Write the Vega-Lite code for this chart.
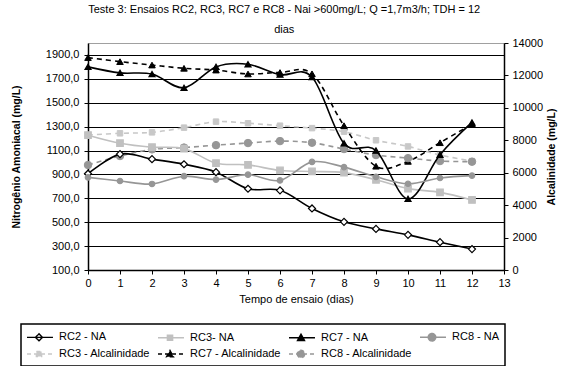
{
  "$schema": "https://vega.github.io/schema/vega-lite/v6.json",
  "width": 416,
  "height": 227,
  "autosize": "none",
  "padding": {"left": 88, "top": 43, "right": 78, "bottom": 96},
  "background": "white",
  "title": {
    "text": ["Teste 3: Ensaios RC2, RC3, RC7 e RC8 - Nai >600mg/L; Q =1,7m3/h; TDH = 12", "dias"],
    "anchor": "middle",
    "frame": "bounds",
    "font": "Liberation Sans",
    "fontSize": 11,
    "fontWeight": "normal",
    "color": "black",
    "lineHeight": 20,
    "offset": 2
  },
  "config": {
    "view": {"stroke": "#a0a0a0", "strokeWidth": 1},
    "axis": {
      "domainColor": "black",
      "tickColor": "black",
      "labelColor": "black",
      "titleColor": "black",
      "labelFont": "Liberation Sans",
      "titleFont": "Liberation Sans",
      "labelFontSize": 11,
      "tickSize": 4,
      "grid": false,
      "labelFlush": false,
      "labelOverlap": false,
      "domainWidth": 1.5
    }
  },
  "data": {
    "values": [
      {"d": 0, "s": "RC2 - NA", "k": "NA", "v": 906},
      {"d": 1, "s": "RC2 - NA", "k": "NA", "v": 1070},
      {"d": 2, "s": "RC2 - NA", "k": "NA", "v": 1028},
      {"d": 3, "s": "RC2 - NA", "k": "NA", "v": 985},
      {"d": 4, "s": "RC2 - NA", "k": "NA", "v": 919},
      {"d": 5, "s": "RC2 - NA", "k": "NA", "v": 780},
      {"d": 6, "s": "RC2 - NA", "k": "NA", "v": 767},
      {"d": 7, "s": "RC2 - NA", "k": "NA", "v": 615},
      {"d": 8, "s": "RC2 - NA", "k": "NA", "v": 503},
      {"d": 9, "s": "RC2 - NA", "k": "NA", "v": 444},
      {"d": 10, "s": "RC2 - NA", "k": "NA", "v": 394},
      {"d": 11, "s": "RC2 - NA", "k": "NA", "v": 333},
      {"d": 12, "s": "RC2 - NA", "k": "NA", "v": 275},
      {"d": 0, "s": "RC3- NA", "k": "NA", "v": 1228},
      {"d": 1, "s": "RC3- NA", "k": "NA", "v": 1161},
      {"d": 2, "s": "RC3- NA", "k": "NA", "v": 1128},
      {"d": 3, "s": "RC3- NA", "k": "NA", "v": 1116},
      {"d": 4, "s": "RC3- NA", "k": "NA", "v": 994},
      {"d": 5, "s": "RC3- NA", "k": "NA", "v": 980},
      {"d": 6, "s": "RC3- NA", "k": "NA", "v": 933},
      {"d": 7, "s": "RC3- NA", "k": "NA", "v": 925},
      {"d": 8, "s": "RC3- NA", "k": "NA", "v": 915},
      {"d": 9, "s": "RC3- NA", "k": "NA", "v": 855},
      {"d": 10, "s": "RC3- NA", "k": "NA", "v": 781},
      {"d": 11, "s": "RC3- NA", "k": "NA", "v": 750},
      {"d": 12, "s": "RC3- NA", "k": "NA", "v": 686},
      {"d": 0, "s": "RC7 - NA", "k": "NA", "v": 1800},
      {"d": 1, "s": "RC7 - NA", "k": "NA", "v": 1750},
      {"d": 2, "s": "RC7 - NA", "k": "NA", "v": 1740},
      {"d": 3, "s": "RC7 - NA", "k": "NA", "v": 1625},
      {"d": 4, "s": "RC7 - NA", "k": "NA", "v": 1800},
      {"d": 5, "s": "RC7 - NA", "k": "NA", "v": 1822},
      {"d": 6, "s": "RC7 - NA", "k": "NA", "v": 1735},
      {"d": 7, "s": "RC7 - NA", "k": "NA", "v": 1715},
      {"d": 8, "s": "RC7 - NA", "k": "NA", "v": 1160},
      {"d": 9, "s": "RC7 - NA", "k": "NA", "v": 1100},
      {"d": 10, "s": "RC7 - NA", "k": "NA", "v": 695},
      {"d": 11, "s": "RC7 - NA", "k": "NA", "v": 1065},
      {"d": 12, "s": "RC7 - NA", "k": "NA", "v": 1335},
      {"d": 0, "s": "RC8 - NA", "k": "NA", "v": 875},
      {"d": 1, "s": "RC8 - NA", "k": "NA", "v": 845},
      {"d": 2, "s": "RC8 - NA", "k": "NA", "v": 820},
      {"d": 3, "s": "RC8 - NA", "k": "NA", "v": 885},
      {"d": 4, "s": "RC8 - NA", "k": "NA", "v": 857},
      {"d": 5, "s": "RC8 - NA", "k": "NA", "v": 898},
      {"d": 6, "s": "RC8 - NA", "k": "NA", "v": 850},
      {"d": 7, "s": "RC8 - NA", "k": "NA", "v": 1005},
      {"d": 8, "s": "RC8 - NA", "k": "NA", "v": 961},
      {"d": 9, "s": "RC8 - NA", "k": "NA", "v": 880},
      {"d": 10, "s": "RC8 - NA", "k": "NA", "v": 822},
      {"d": 11, "s": "RC8 - NA", "k": "NA", "v": 870},
      {"d": 12, "s": "RC8 - NA", "k": "NA", "v": 890},
      {"d": 0, "s": "RC3 - Alcalinidade", "k": "Alc", "v": 8325},
      {"d": 1, "s": "RC3 - Alcalinidade", "k": "Alc", "v": 8430},
      {"d": 2, "s": "RC3 - Alcalinidade", "k": "Alc", "v": 8490},
      {"d": 3, "s": "RC3 - Alcalinidade", "k": "Alc", "v": 8780},
      {"d": 4, "s": "RC3 - Alcalinidade", "k": "Alc", "v": 9150},
      {"d": 5, "s": "RC3 - Alcalinidade", "k": "Alc", "v": 9050},
      {"d": 6, "s": "RC3 - Alcalinidade", "k": "Alc", "v": 8900},
      {"d": 7, "s": "RC3 - Alcalinidade", "k": "Alc", "v": 8750},
      {"d": 8, "s": "RC3 - Alcalinidade", "k": "Alc", "v": 8530},
      {"d": 9, "s": "RC3 - Alcalinidade", "k": "Alc", "v": 8000},
      {"d": 10, "s": "RC3 - Alcalinidade", "k": "Alc", "v": 7620},
      {"d": 11, "s": "RC3 - Alcalinidade", "k": "Alc", "v": 7090},
      {"d": 12, "s": "RC3 - Alcalinidade", "k": "Alc", "v": 6720},
      {"d": 0, "s": "RC7 - Alcalinidade", "k": "Alc", "v": 13100},
      {"d": 1, "s": "RC7 - Alcalinidade", "k": "Alc", "v": 12850},
      {"d": 2, "s": "RC7 - Alcalinidade", "k": "Alc", "v": 12640},
      {"d": 3, "s": "RC7 - Alcalinidade", "k": "Alc", "v": 12440},
      {"d": 4, "s": "RC7 - Alcalinidade", "k": "Alc", "v": 12330},
      {"d": 5, "s": "RC7 - Alcalinidade", "k": "Alc", "v": 12090},
      {"d": 6, "s": "RC7 - Alcalinidade", "k": "Alc", "v": 12180},
      {"d": 7, "s": "RC7 - Alcalinidade", "k": "Alc", "v": 12100},
      {"d": 8, "s": "RC7 - Alcalinidade", "k": "Alc", "v": 8900},
      {"d": 9, "s": "RC7 - Alcalinidade", "k": "Alc", "v": 6400},
      {"d": 10, "s": "RC7 - Alcalinidade", "k": "Alc", "v": 6700},
      {"d": 11, "s": "RC7 - Alcalinidade", "k": "Alc", "v": 7850},
      {"d": 12, "s": "RC7 - Alcalinidade", "k": "Alc", "v": 9000},
      {"d": 0, "s": "RC8 - Alcalinidade", "k": "Alc", "v": 6475},
      {"d": 1, "s": "RC8 - Alcalinidade", "k": "Alc", "v": 7030},
      {"d": 2, "s": "RC8 - Alcalinidade", "k": "Alc", "v": 7440},
      {"d": 3, "s": "RC8 - Alcalinidade", "k": "Alc", "v": 7550},
      {"d": 4, "s": "RC8 - Alcalinidade", "k": "Alc", "v": 7700},
      {"d": 5, "s": "RC8 - Alcalinidade", "k": "Alc", "v": 7830},
      {"d": 6, "s": "RC8 - Alcalinidade", "k": "Alc", "v": 7950},
      {"d": 7, "s": "RC8 - Alcalinidade", "k": "Alc", "v": 7850},
      {"d": 8, "s": "RC8 - Alcalinidade", "k": "Alc", "v": 7460},
      {"d": 9, "s": "RC8 - Alcalinidade", "k": "Alc", "v": 7090},
      {"d": 10, "s": "RC8 - Alcalinidade", "k": "Alc", "v": 6900},
      {"d": 11, "s": "RC8 - Alcalinidade", "k": "Alc", "v": 6720},
      {"d": 12, "s": "RC8 - Alcalinidade", "k": "Alc", "v": 6680}
    ]
  },
  "layer": [
    {
      "transform": [{"filter": "datum.k === 'Alc'"}],
      "encoding": {
        "x": {"field": "d", "type": "quantitative", "scale": {"domain": [0, 13], "nice": false},
          "axis": {"values": [0,1,2,3,4,5,6,7,8,9,10,11,12,13], "title": "Tempo de ensaio (dias)", "titleFontWeight": "normal", "titleFontSize": 11, "labelPadding": 3, "titlePadding": 5}},
        "y": {"field": "v", "type": "quantitative", "scale": {"domain": [0, 14000], "nice": false},
          "axis": {"orient": "right", "values": [0,2000,4000,6000,8000,10000,12000,14000], "format": "d", "title": "Alcalinidade (mg/L)", "titleFontWeight": "bold", "titleFontSize": 10.5, "titleAngle": 270, "titlePadding": 14, "labelPadding": 4}}
      },
      "layer": [
        {
          "mark": {"type": "line", "interpolate": "cardinal", "strokeWidth": 1.6},
          "encoding": {
            "color": {"field": "s", "type": "nominal",
              "scale": {"domain": ["RC2 - NA","RC3- NA","RC7 - NA","RC8 - NA","RC3 - Alcalinidade","RC7 - Alcalinidade","RC8 - Alcalinidade"],
                        "range": ["black","#c0c0c0","black","#969696","#c8c8c8","black","#969696"]},
              "legend": {
                "orient": "none", "legendX": -67, "legendY": 281, "columns": 4, "direction": "horizontal",
                "gridAlign": "all",
                "title": null, "symbolSize": 196, "labelOffset": 17, "labelFont": "Liberation Sans", "labelFontSize": 11,
                "labelColor": "black", "columnPadding": 4, "rowPadding": 2, "padding": 5, "strokeColor": "black",
                "labelLimit": 200,
                "encode": {
                  "legend": {"update": {"strokeWidth": {"value": 1.5}}},
                  "symbols": {"update": {
                    "shape": {"signal": "['M-1,0H2.71M0.714,-0.5L1.214,0L0.714,0.5L0.214,0Z','M-1,0H2.71M0.34,-0.37H1.09V0.37H0.34Z','M-1,0H2.71M0.714,-0.5L1.214,0.4L0.214,0.4Z','M-1,0H2.71M0.174,0A0.54,0.54 0 1,0 1.254,0A0.54,0.54 0 1,0 0.174,0Z','M-1,0H2.71M0.34,-0.37H1.09V0.37H0.34Z','M-1,0H2.71M0.714,-0.5L1.214,0.4L0.214,0.4Z','M-1,0H2.71M0.174,0A0.54,0.54 0 1,0 1.254,0A0.54,0.54 0 1,0 0.174,0Z'][indexof(['RC2 - NA','RC3- NA','RC7 - NA','RC8 - NA','RC3 - Alcalinidade','RC7 - Alcalinidade','RC8 - Alcalinidade'], datum.value)]"},
                    "fill": {"signal": "['white','#c0c0c0','black','#969696','#c8c8c8','black','#969696'][indexof(['RC2 - NA','RC3- NA','RC7 - NA','RC8 - NA','RC3 - Alcalinidade','RC7 - Alcalinidade','RC8 - Alcalinidade'], datum.value)]"},
                    "stroke": {"signal": "['black','#c0c0c0','black','#969696','#c8c8c8','black','#969696'][indexof(['RC2 - NA','RC3- NA','RC7 - NA','RC8 - NA','RC3 - Alcalinidade','RC7 - Alcalinidade','RC8 - Alcalinidade'], datum.value)]"},
                    "strokeDash": {"signal": "indexof(['RC2 - NA','RC3- NA','RC7 - NA','RC8 - NA','RC3 - Alcalinidade','RC7 - Alcalinidade','RC8 - Alcalinidade'], datum.value) >= 4 ? [4,3] : [1,0]"},
                    "strokeWidth": {"value": 1.4},
                    "opacity": {"value": 1},
                    "fillOpacity": {"value": 1},
                    "strokeOpacity": {"value": 1}
                  }}
                }
              }},
            "strokeDash": {"field": "s", "type": "nominal",
              "scale": {"domain": ["RC3 - Alcalinidade","RC7 - Alcalinidade","RC8 - Alcalinidade"], "range": [[5,4],[5,4],[5,4]]},
              "legend": null}
          }
        },
        {
          "mark": {"type": "point", "filled": true, "opacity": 1, "strokeWidth": 1},
          "encoding": {
            "shape": {"field": "s", "type": "nominal", "scale": {"domain": ["RC3 - Alcalinidade","RC7 - Alcalinidade","RC8 - Alcalinidade"], "range": ["square","triangle-up","circle"]}, "legend": null},
            "size": {"field": "s", "type": "nominal", "scale": {"domain": ["RC3 - Alcalinidade","RC7 - Alcalinidade","RC8 - Alcalinidade"], "range": [30, 56, 100]}, "legend": null},
            "fill": {"field": "s", "type": "nominal", "scale": {"domain": ["RC3 - Alcalinidade","RC7 - Alcalinidade","RC8 - Alcalinidade"], "range": ["#c8c8c8","black","#969696"]}, "legend": null},
            "stroke": {"field": "s", "type": "nominal", "scale": {"domain": ["RC3 - Alcalinidade","RC7 - Alcalinidade","RC8 - Alcalinidade"], "range": ["#c8c8c8","black","#969696"]}, "legend": null}
          }
        }
      ]
    },
    {
      "transform": [{"filter": "datum.k === 'NA'"}],
      "encoding": {
        "x": {"field": "d", "type": "quantitative", "scale": {"domain": [0, 13], "nice": false},
          "axis": {"values": [0,1,2,3,4,5,6,7,8,9,10,11,12,13], "title": "Tempo de ensaio (dias)", "titleFontWeight": "normal", "titleFontSize": 11, "labelPadding": 3, "titlePadding": 5}},
        "y": {"field": "v", "type": "quantitative", "scale": {"domain": [100, 2000], "nice": false, "zero": false},
          "axis": {"orient": "left", "values": [100,300,500,700,900,1100,1300,1500,1700,1900], "grid": true, "gridColor": "black", "gridWidth": 1,
            "labelExpr": "replace(format(datum.value, '.1f'), '.', ',')",
            "title": "Nitrogênio Amoniacal (mg/L)", "titleFontWeight": "bold", "titleFontSize": 10.5, "titlePadding": 24, "labelPadding": 5}}
      },
      "layer": [
        {
          "mark": {"type": "line", "interpolate": "cardinal", "strokeWidth": 1.6},
          "encoding": {
            "color": {"field": "s", "type": "nominal"}
          }
        },
        {
          "mark": {"type": "point", "filled": true, "opacity": 1, "strokeWidth": 1.2},
          "encoding": {
            "shape": {"field": "s", "type": "nominal", "scale": {"domain": ["RC2 - NA","RC3- NA","RC7 - NA","RC8 - NA"], "range": ["diamond","square","triangle-up","circle"]}, "legend": null},
            "size": {"field": "s", "type": "nominal", "scale": {"domain": ["RC2 - NA","RC3- NA","RC7 - NA","RC8 - NA"], "range": [49, 30, 56, 100]}, "legend": null},
            "fill": {"field": "s", "type": "nominal", "scale": {"domain": ["RC2 - NA","RC3- NA","RC7 - NA","RC8 - NA"], "range": ["white","#c0c0c0","black","#969696"]}, "legend": null},
            "stroke": {"field": "s", "type": "nominal", "scale": {"domain": ["RC2 - NA","RC3- NA","RC7 - NA","RC8 - NA"], "range": ["black","#c0c0c0","black","#969696"]}, "legend": null}
          }
        }
      ]
    }
  ],
  "resolve": {"scale": {"y": "independent", "shape": "independent", "size": "independent", "fill": "independent", "stroke": "independent"}}
}
